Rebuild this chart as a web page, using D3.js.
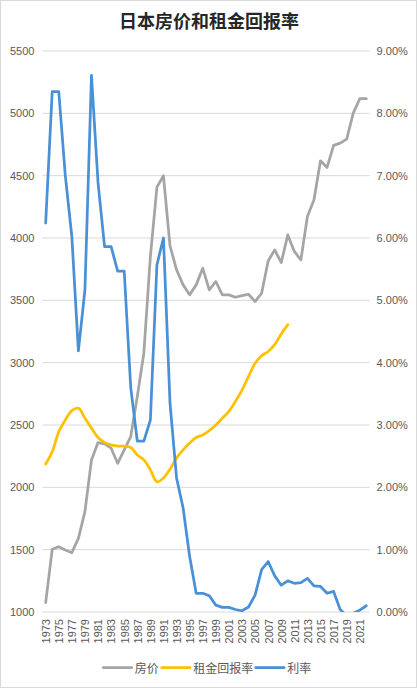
<!DOCTYPE html>
<html><head><meta charset="utf-8">
<script src="https://cdn.jsdelivr.net/npm/d3@7"></script>
<style>body{margin:0;background:#fff}svg{display:block}</style>
</head><body>
<svg id="c" width="417" height="688"></svg>
<script>
const years = d3.range(1973, 2023);
const housePrice = [1075,1503,1524,1497,1476,1591,1805,2220,2359,2348,2314,2193,2300,2407,2728,3076,3850,4408,4499,3937,3745,3624,3544,3624,3758,3584,3651,3544,3544,3525,3538,3549,3490,3557,3816,3905,3803,4025,3892,3825,4172,4306,4619,4566,4743,4761,4793,5002,5117,5117];
const rentYield = [2.375,2.57,2.89,3.08,3.23,3.27,3.11,2.95,2.80,2.72,2.68,2.66,2.66,2.64,2.52,2.44,2.28,2.09,2.15,2.29,2.47,2.60,2.71,2.80,2.84,2.91,3.00,3.11,3.22,3.38,3.56,3.78,3.99,4.11,4.18,4.29,4.46,4.61];
const rate = [6.24,8.35,8.35,7.0,6.02,4.19,5.17,8.61,6.89,5.86,5.86,5.47,5.47,3.6,2.74,2.74,3.08,5.57,6.0,3.35,2.15,1.67,0.89,0.30,0.30,0.26,0.11,0.075,0.075,0.04,0.02,0.08,0.27,0.68,0.81,0.58,0.43,0.50,0.46,0.47,0.54,0.42,0.41,0.30,0.33,0.04,-0.06,-0.02,0.03,0.10];
const leftTicks = d3.range(1000, 5501, 500);
const rightTicks = d3.range(0, 9.01, 1);
const seriesNames = ["房价","租金回报率","利率"];
const colors = ["#A5A5A5","#FFC000","#4A90D6"];

const svg = d3.select("#c");
svg.append("rect").attr("x",0.5).attr("y",0.5).attr("width",416).attr("height",687)
  .attr("fill","#fff").attr("stroke","#d9d9d9");

const L = 42.4, R = 369.6, T = 51, B = 612;
const x = d3.scalePoint().domain(years).range([L, R]).padding(0.5);
const yL = d3.scaleLinear().domain([1000, 5500]).range([B, T]);
const yR = d3.scaleLinear().domain([0, 9]).range([B, T]);

// gridlines
svg.append("g").selectAll("line").data(leftTicks).join("line")
  .attr("x1", L).attr("x2", R).attr("y1", d=>yL(d)).attr("y2", d=>yL(d))
  .attr("stroke","#d9d9d9").attr("stroke-width",1);

const tickFont = "'Liberation Sans', Arial, sans-serif";
const gl = svg.append("g").attr("transform",`translate(${L},0)`)
  .call(d3.axisLeft(yL).tickValues(leftTicks).tickSize(0).tickPadding(8).tickFormat(d3.format("d")));
gl.select(".domain").remove();
gl.selectAll("text").attr("font-family",tickFont).attr("font-size","11px").attr("fill","#595959");

const gr = svg.append("g").attr("transform",`translate(${R},0)`)
  .call(d3.axisRight(yR).tickValues(rightTicks).tickSize(0).tickPadding(7).tickFormat(d=>d.toFixed(2)+"%"));
gr.select(".domain").remove();
gr.selectAll("text").attr("font-family",tickFont).attr("font-size","11px").attr("fill","#595959");

const gx = svg.append("g").attr("transform",`translate(0,${B})`)
  .call(d3.axisBottom(x).tickValues(years.filter(y=>y%2===1)).tickSize(0).tickPadding(0));
gx.select(".domain").remove();
gx.selectAll("text").attr("font-family",tickFont).attr("font-size","11px").attr("fill","#595959")
  .attr("text-anchor","end").attr("dy","0.35em")
  .attr("transform","translate(0,7) rotate(-90)").attr("x",0).attr("y",0);

// clip
svg.append("clipPath").attr("id","clip").append("rect")
  .attr("x",L).attr("y",T-5).attr("width",R-L).attr("height",B-T+5);

const g = svg.append("g").attr("clip-path","url(#clip)");
const lineL = d3.line().x((d,i)=>x(years[i])).y(d=>yL(d));
const lineR = d3.line().x((d,i)=>x(years[i])).y(d=>yR(d));
const lineSmooth = d3.line().x((d,i)=>x(years[i])).y(d=>yR(d)).curve(d3.curveCatmullRom.alpha(0.5));

const common = p => p.attr("fill","none").attr("stroke-width",2.75).attr("stroke-linejoin","round").attr("stroke-linecap","round");
g.append("path").datum(housePrice).attr("d",lineL).attr("stroke",colors[0]).call(common);
g.append("path").datum(rentYield).attr("d",lineSmooth).attr("stroke",colors[1]).call(common);
g.append("path").datum(rate).attr("d",lineR).attr("stroke",colors[2]).call(common);

// title
svg.append("text").attr("x",209).attr("y",20).attr("text-anchor","middle").attr("dominant-baseline","central")
  .attr("font-family","'Noto Sans CJK SC', sans-serif").attr("font-weight","bold").attr("font-size","18px")
  .attr("fill","#262626").text("日本房价和租金回报率");

// legend
const legX = [103.3, 161.7, 255.7];
const lg = svg.append("g");
seriesNames.forEach((n,i)=>{
  lg.append("line").attr("x1",legX[i]).attr("x2",legX[i]+28.4).attr("y1",667.5).attr("y2",667.5)
    .attr("stroke",colors[i]).attr("stroke-width",2.75).attr("stroke-linecap","round");
  lg.append("text").attr("x",legX[i]+31.5).attr("y",667.5).attr("dominant-baseline","central")
    .attr("font-family","'Noto Sans CJK SC', sans-serif").attr("font-size","12px").attr("fill","#595959").text(n);
});
</script>
</body></html>
